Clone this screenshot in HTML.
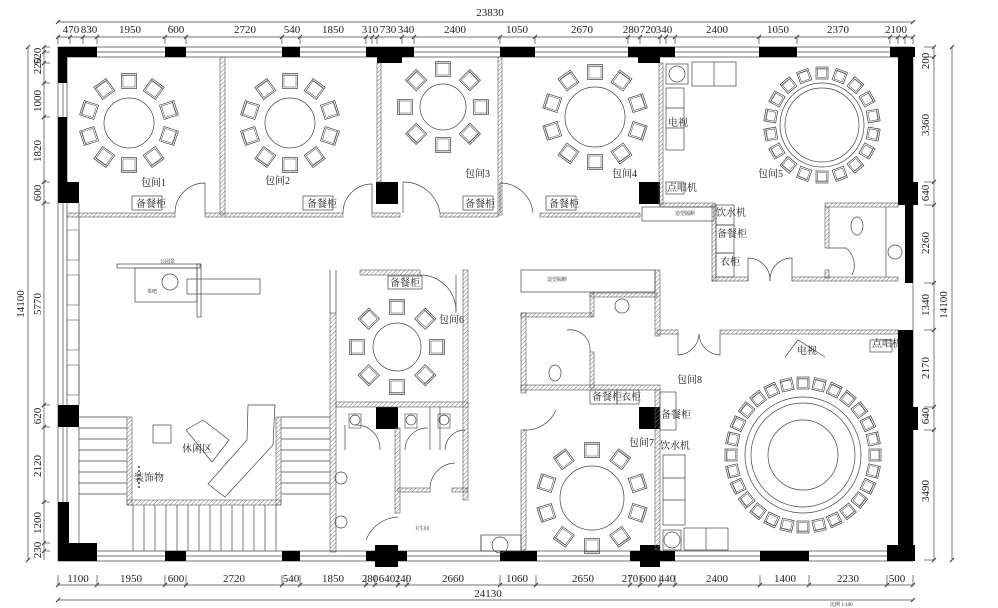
<!DOCTYPE html>
<html><head><meta charset="utf-8"><style>
html,body{margin:0;padding:0;background:#fff;width:998px;height:608px;overflow:hidden}
svg{display:block}
text{font-family:"Liberation Serif","Noto Serif CJK SC","Noto Sans CJK SC",serif;fill:#222}
.d{font-size:11px}
.l{font-size:10px}
.s{font-size:5px}
</style></head><body>
<svg id="s" width="998" height="608" viewBox="0 0 998 608" xmlns="http://www.w3.org/2000/svg">
<defs>
<pattern id="h" width="3" height="3" patternUnits="userSpaceOnUse" patternTransform="rotate(45)"><line x1="0" y1="0" x2="0" y2="3" stroke="#777" stroke-width="1"/></pattern>
</defs>
<g id="g" fill="none" stroke="#444" stroke-width="0.7"></g>

<!-- dimension texts top -->
<g class="d" text-anchor="middle">
<text x="490" y="16">23830</text>
<text x="71" y="33">470</text><text x="89" y="33">830</text><text x="130" y="33">1950</text><text x="176" y="33">600</text><text x="245" y="33">2720</text><text x="292" y="33">540</text><text x="333" y="33">1850</text><text x="370" y="33">310</text><text x="388" y="33">730</text><text x="406" y="33">340</text><text x="455" y="33">2400</text><text x="517" y="33">1050</text><text x="582" y="33">2670</text><text x="631" y="33">280</text><text x="648" y="33">720</text><text x="664" y="33">340</text><text x="717" y="33">2400</text><text x="778" y="33">1050</text><text x="838" y="33">2370</text><text x="896" y="33">2100</text>
<text x="78" y="582">1100</text><text x="131" y="582">1950</text><text x="176" y="582">600</text><text x="234" y="582">2720</text><text x="291" y="582">540</text><text x="333" y="582">1850</text><text x="370" y="582">280</text><text x="387" y="582">640</text><text x="403" y="582">240</text><text x="453" y="582">2660</text><text x="517" y="582">1060</text><text x="583" y="582">2650</text><text x="630" y="582">270</text><text x="648" y="582">600</text><text x="667" y="582">440</text><text x="717" y="582">2400</text><text x="785" y="582">1400</text><text x="848" y="582">2230</text><text x="897" y="582">500</text>
<text x="488" y="597">24130</text>
</g>
<g class="d" text-anchor="middle">
<text transform="translate(41,56) rotate(-90)">520</text>
<text transform="translate(41,66) rotate(-90)">220</text>
<text transform="translate(41,101) rotate(-90)">1000</text>
<text transform="translate(41,151) rotate(-90)">1820</text>
<text transform="translate(41,193) rotate(-90)">600</text>
<text transform="translate(41,304) rotate(-90)">5770</text>
<text transform="translate(41,416) rotate(-90)">620</text>
<text transform="translate(41,466) rotate(-90)">2120</text>
<text transform="translate(41,523) rotate(-90)">1200</text>
<text transform="translate(41,550) rotate(-90)">230</text>
<text transform="translate(24,304) rotate(-90)">14100</text>
<text transform="translate(929,61) rotate(-90)">200</text>
<text transform="translate(929,125) rotate(-90)">3360</text>
<text transform="translate(929,193) rotate(-90)">640</text>
<text transform="translate(929,243) rotate(-90)">2260</text>
<text transform="translate(929,305) rotate(-90)">1340</text>
<text transform="translate(929,368) rotate(-90)">2170</text>
<text transform="translate(929,416) rotate(-90)">640</text>
<text transform="translate(929,491) rotate(-90)">3490</text>
<text transform="translate(947,305) rotate(-90)">14100</text>
</g>

<!-- labels -->
<g class="l">
<text x="141" y="186">包间1</text><text x="265" y="184">包间2</text><text x="465" y="177">包间3</text><text x="612" y="177">包间4</text><text x="758" y="177">包间5</text>
<text x="439" y="323">包间6</text><text x="629" y="446">包间7</text><text x="677" y="383">包间8</text>
<text x="136" y="207">备餐柜</text><text x="307" y="207">备餐柜</text><text x="465" y="207">备餐柜</text><text x="549" y="207">备餐柜</text>
<text x="390" y="286">备餐柜</text><text x="592" y="400">备餐柜</text><text x="621" y="400">衣柜</text><text x="661" y="418">备餐柜</text><text x="660" y="449">饮水机</text>
<text x="668" y="126">电视</text><text x="667" y="191">点唱机</text><text x="716" y="216">饮水机</text><text x="717" y="237">备餐柜</text><text x="720" y="265">衣柜</text>
<text x="797" y="354">电视</text><text x="872" y="347">点唱机</text>
<text x="182" y="452">休闲区</text><text x="134" y="481">装饰物</text>
</g>
<g class="s">
<text x="160" y="263">公园景</text><text x="147" y="293">茶吧</text><text x="675" y="215">造型隔断</text><text x="547" y="281">造型隔断</text><text x="414" y="530">卫生间</text><text x="830" y="606">比例 1:100</text>
</g>
</svg>
<script>
var NS="http://www.w3.org/2000/svg",G=document.getElementById("g");
function E(t,a,p){var e=document.createElementNS(NS,t);for(var k in a)e.setAttribute(k,a[k]);(p||G).appendChild(e);return e}
function B(x,y,w,h){E("rect",{x:x,y:y,width:w,height:h,fill:"#000",stroke:"none"})}
function H(x,y,w,h){E("rect",{x:x,y:y,width:w,height:h,fill:"url(#h)",stroke:"#555","stroke-width":0.6})}
function R(x,y,w,h,sw){E("rect",{x:x,y:y,width:w,height:h,"stroke-width":sw||0.7})}
function L(x1,y1,x2,y2,sw){E("line",{x1:x1,y1:y1,x2:x2,y2:y2,"stroke-width":sw||0.7})}
function C(cx,cy,r){E("circle",{cx:cx,cy:cy,r:r})}
function P(d){E("path",{d:d})}
// dimension lines
L(58,22,913,22);L(58,37,913,37);L(58,585,913,585);L(58,600,913,600);
L(28,47,28,560);L(44,47,44,560);L(934,47,934,560);L(952,47,952,560);
[58,70,83,97,165,186,282,300,366,372,377,402,414,500,535,628,640,660,666,675,759,797,890,898,905,913].forEach(function(x){L(x-2,39,x+2,35,1.2);L(x,37,x,44)});
[58,97,165,186,282,300,366,375,398,407,500,536,630,640,660,675,760,809,887,913].forEach(function(x){L(x-2,587,x+2,583,1.2);L(x,585,x,575)});
[47,52,63,83,117,182,203,405,427,502,543,551].forEach(function(y){L(42,y+2,46,y-2,1.2);L(44,y,50,y)});
[47,57,182,205,283,330,407,430,560].forEach(function(y){L(932,y+2,936,y-2,1.2);L(934,y,924,y)});
L(56,24,60,20,1.2);L(911,24,915,20,1.2);L(26,49,30,45,1.2);L(26,562,30,558,1.2);L(950,49,954,45,1.2);L(950,562,954,558,1.2);L(56,602,60,598,1.2);L(911,602,915,598,1.2);
// window bands
L(58,47,913,47);L(58,52,913,52);L(58,57,900,57);
L(58,551,913,551);L(58,556,913,556);L(58,561,913,561);
L(58,47,58,561);L(63,47,63,561);L(67,57,67,551);L(79,203,79,405);L(79,427,79,551);
L(913,47,913,561);
for(var y=230;y<400;y+=45)R(67,y,12,30,0.5);
// black walls
[[58,47,39,10],[58,47,9,36],[58,117,9,66],[58,182,21,21],[165,47,21,10],[282,47,18,10],[366,47,48,10],[377,57,25,6],[500,47,35,10],[628,47,47,10],[638,57,22,6],[759,47,38,10],[890,47,25,10],[898,47,15,158],[898,182,20,23],[905,205,8,78],[898,330,15,230],[898,407,20,23],[58,405,21,22],[58,502,11,58],[58,543,39,18],[165,551,21,10],[282,551,18,10],[366,551,41,10],[375,545,23,22],[500,551,37,10],[630,551,45,10],[640,545,20,22],[760,551,49,10],[887,545,28,16],[376,182,22,22],[639,182,21,22],[639,407,21,22],[376,407,22,22]].forEach(function(a){B.apply(null,a)});
// top room partitions
H(220,57,5,158);H(377,63,4,119);H(498,57,4,158);H(659,63,4,142);
H(67,213,108,4);H(205,213,138,4);H(372,213,28,4);H(440,213,58,4);H(540,213,100,4);
P("M175 213 A30 30 0 0 1 205 183 L205 213");P("M343 213 A29 29 0 0 1 372 184 L372 213");P("M403 213 L403 182 A37 37 0 0 1 440 213");P("M500 213 L500 183 A33 33 0 0 1 533 213");
R(132,196,30,14);R(303,196,30,14);R(463,196,30,14);R(546,196,30,14);
// room4/5 furniture
R(666,64,22,20);C(677,74,8);R(692,62,44,24);L(714,62,714,86);R(666,88,18,62);L(666,108,684,108);L(666,128,684,128);R(666,182,18,12);
H(660,203,55,4);R(642,207,72,14);H(712,205,4,76);R(716,205,18,20);R(716,225,18,28);R(716,253,18,24);
H(712,277,36,4);P("M748 281 L748 258 A22 22 0 0 1 770 281");P("M792 281 L792 258 A22 22 0 0 0 770 281");H(792,277,106,4);
H(825,203,73,4);H(825,207,4,41);P("M828 248 L846 248 A22 22 0 0 1 852 275");H(825,270,4,8);L(886,207,886,277);
E("ellipse",{cx:857,cy:226,rx:6,ry:9});C(895,252,7);
// room 8
H(655,270,5,66);H(657,330,21,4);P("M678 334 L678 355 A22 22 0 0 0 699 334");P("M720 334 L720 355 A22 22 0 0 1 699 334");H(720,330,178,4);
R(521,270,134,22);H(590,293,67,4);H(590,293,4,24);H(521,313,71,4);H(521,313,5,80);H(590,352,4,36);H(521,385,139,5);
C(622,306,7);E("ellipse",{cx:555,cy:373,rx:6,ry:8});P("M567 330 A20 20 0 0 1 590 352");
R(590,390,27,14);R(617,390,22,14);R(660,392,16,38);
H(655,390,5,160);H(521,430,5,120);P("M523 430 A33 33 0 0 0 556 410");
R(663,455,22,70);L(663,478,685,478);L(663,500,685,500);R(663,530,18,20);C(672,540,8);R(684,528,44,22);L(706,528,706,550);
P("M785 357 L798 340 L825 357");R(870,340,22,12);
R(481,535,40,16);C(500,545,8);L(481,535,481,551);
// lower left
H(330,313,6,239);L(330,270,330,313);L(336,270,336,313);H(360,270,60,5);H(463,270,5,230);L(456,275,456,313);H(336,402,132,5);R(388,276,34,13);
P("M420 275 A36 36 0 0 1 456 311");
H(395,428,5,85);H(398,488,32,4);H(452,488,15,4);L(430,407,430,450);L(440,407,440,450);
P("M345 425 L345 450 M380 450 A24 24 0 0 0 355 425");P("M405 450 A22 22 0 0 1 428 428");P("M445 450 A20 20 0 0 1 465 430");P("M430 488 A26 26 0 0 1 455 463");P("M366 540 A36 36 0 0 1 398 517");
[[355,422],[411,422],[444,422]].forEach(function(p){R(p[0]-6,p[1]-8,12,14,0.6);C(p[0],p[1]-2,5)});
C(341,478,6);C(341,522,6);
// stairs
for(var yy=417;yy<505;yy+=11){L(79,yy,127,yy);L(281,yy,330,yy)}
H(127,417,5,88);H(276,417,5,88);H(127,500,154,5);
for(var xx=133;xx<280;xx+=11)L(xx,505,xx,551);
// lounge
R(117,264,83,4);R(135,268,62,34);R(197,264,4,53);R(187,279,73,15);C(170,282,8);
R(153,425,18,18);P("M186 430 L203 420 L229 440 L212 462 Z");P("M248 405 L275 405 L273 445 L225 497 L208 484 L247 440 Z");
for(var k=0;k<6;k++)C(139,467+k*4,0.8);
// tables with chairs
function chair(cx,cy,a,s){var g=E("g",{transform:"translate("+cx+","+cy+") rotate("+a+")"});E("rect",{x:-s/2,y:-s/2,width:s,height:s},g);E("rect",{x:-s/2+1.5,y:-s/2+1.5,width:s-3,height:s-3,"stroke-width":0.5},g);E("line",{x1:-s/2,y1:-s/2+2,x2:s/2,y2:-s/2+2,"stroke-width":0.5},g)}
function table(cx,cy,r,n,cr,s,off,rings){C(cx,cy,r);(rings||[]).forEach(function(q){C(cx,cy,q)});for(var i=0;i<n;i++){var a=(i/n)*360+(off||0),t=a*Math.PI/180;chair(cx+cr*Math.sin(t),cy-cr*Math.cos(t),a,s)}}
table(129,123,25,10,42,15,0);table(290,123,25,10,42,15,0);table(443,107,23,8,38,15,0);table(595,117,30,10,45,15,0);
table(822,125,37,18,52,12,0,[42]);table(397,347,24,8,40,15,0);table(592,498,32,10,48,15,0);
table(803,455,58,28,72,12,0,[52,35]);
</script>
</body></html>
